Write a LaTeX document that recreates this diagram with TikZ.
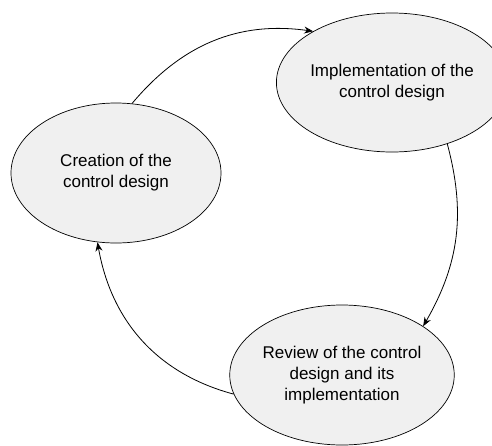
\documentclass[tikz,border=0pt]{standalone}
\usepackage{fontspec}
\setmainfont{Liberation Sans}
\usetikzlibrary{arrows.meta,shapes.geometric}

\begin{document}
\begin{tikzpicture} [
	x=1pt, y=-1pt,
	stage/.style = {draw, ellipse, fill=black!6, line width=0.7pt,
		minimum width=208pt, minimum height=140pt, inner sep=0pt,
		align=center, font=\fontsize{17}{21}\selectfont},
	flow/.style = {line width=0.8pt, -{Stealth[length=9pt,width=7pt]}},
]
\useasboundingbox (0,0) rectangle (492,445);
\node [stage, minimum width=210pt] (create) at (116,173) {Creation of the\\control design};
\node [stage, minimum width=199pt, minimum height=139pt] (impl) at (392,82.5) {Implementation of the\\control design};
\node [stage, minimum width=210pt] (review) at (342,375) {Review of the control\\design and its\\implementation};

\draw [flow] (create.77) to [out=50, in=172] (impl.147);
\draw [flow] (impl.-48) to [out=-75, in=60] (review.31);
\draw [flow] (review.190) to [out=165, in=-80] (create.255);
\end{tikzpicture}
\end{document}
